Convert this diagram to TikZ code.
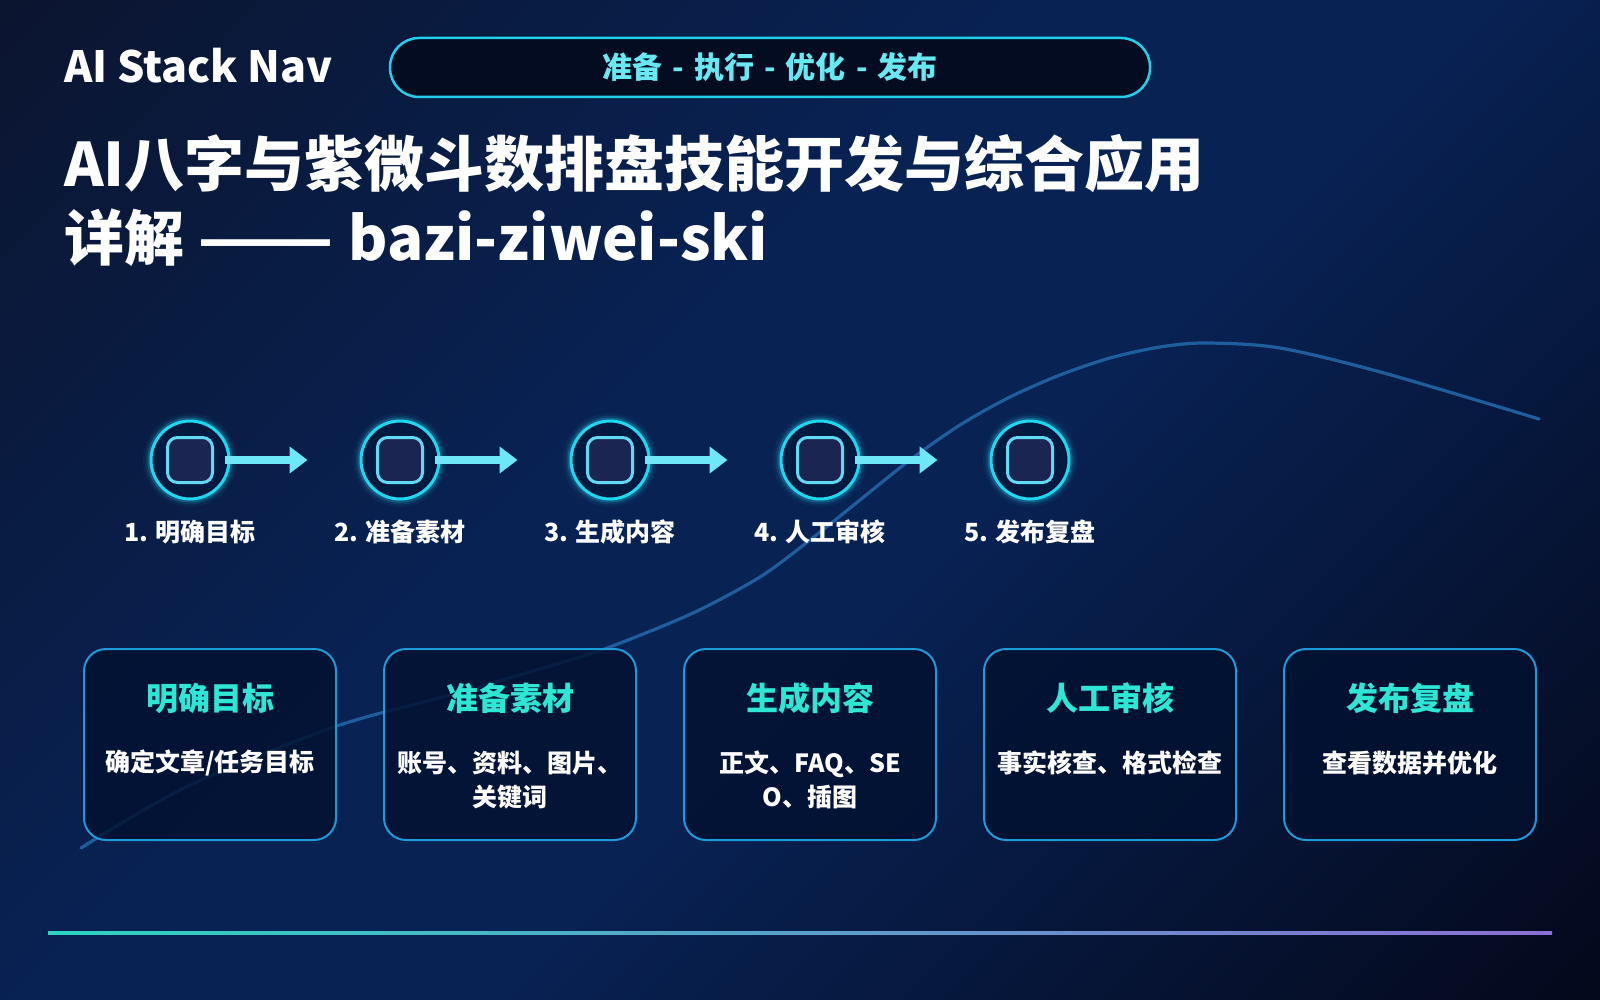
\documentclass[tikz,border=0pt]{standalone}
\usepackage{fontspec}
\usepackage{graphicx}
\setmainfont{Noto Sans CJK SC}
\usetikzlibrary{arrows.meta}
\definecolor{bgA}{HTML}{0B1530}
\definecolor{bgB}{HTML}{082254}
\definecolor{bgC}{HTML}{04081A}
\definecolor{pillB}{HTML}{22CFEA}
\definecolor{pillF}{HTML}{040C22}
\definecolor{pillT}{HTML}{6AE8F2}
\definecolor{curveC}{HTML}{1F5E9C}
\definecolor{ringC}{HTML}{1FD8EF}
\definecolor{ringF}{HTML}{031A40}
\definecolor{sqB}{HTML}{62D9F2}
\definecolor{sqF}{HTML}{1A2552}
\definecolor{arrC}{HTML}{6EE7F9}
\definecolor{cardB}{HTML}{1E9BD7}
\definecolor{cardF}{HTML}{021130}
\definecolor{cardT}{HTML}{2EE6D6}
\definecolor{lineA}{HTML}{2DD4BF}
\definecolor{lineB}{HTML}{8B6FD6}
\pgfdeclarehorizontalshading{bgshade}{100bp}{color(0bp)=(bgA); color(15bp)=(bgA); color(43bp)=(bgB); color(55bp)=(bgB); color(86bp)=(bgC); color(100bp)=(bgC)}
\newcommand\tagsep{\hspace{0.34em}-\hspace{0.34em}}
\begin{document}
\begin{tikzpicture}[x=1pt,y=-1pt,
  brand/.style={anchor=west, inner sep=0pt, text=white, font=\fontsize{43}{50}\selectfont\bfseries},
  pill/.style={draw=pillB, line width=2.5pt, fill=pillF, rounded corners=29pt, minimum width=760pt, minimum height=59pt, text=pillT, font=\fontsize{30}{36}\selectfont\bfseries},
  titletxt/.style={anchor=west, inner sep=0pt, text=white, font=\fontsize{60}{70}\selectfont\bfseries},
  stepring/.style={circle, draw=ringC, line width=3pt, fill=ringF, minimum size=78pt, inner sep=0pt,
     preaction={draw=ringC, line width=16pt, draw opacity=0.05},
     preaction={draw=ringC, line width=11pt, draw opacity=0.10},
     preaction={draw=ringC, line width=7pt, draw opacity=0.22}},
  stepsq/.style={draw=sqB, line width=3pt, fill=sqF, rounded corners=10pt, minimum size=45pt, inner sep=0pt},
  steparrow/.style={draw=arrC, line width=7.5pt, -{Triangle[length=18pt,width=26pt]}, shorten <=-6pt, shorten >=52pt},
  steplbl/.style={inner sep=0pt, text=white, font=\fontsize{25}{30}\selectfont\bfseries},
  card/.style={draw=cardB, line width=2pt, fill=cardF, fill opacity=0.82, rounded corners=22pt, minimum width=252pt, minimum height=191pt, inner sep=0pt},
  cardtitle/.style={inner sep=0pt, text=cardT, font=\fontsize{32}{38}\selectfont\bfseries},
  cardbody/.style={inner sep=0pt, text=white, align=center, font=\fontsize{25}{34}\selectfont\bfseries},
  curveline/.style={draw=curveC, line width=3.2pt, line cap=round}
]
\useasboundingbox (0,0) rectangle (1600,1000);
\shade[shading=bgshade, shading angle=-45] (0,0) rectangle (1600,1000);

% decorative curve
\draw[curveline] plot[smooth, tension=0.5] coordinates {(81,848) (186,787) (334,727) (450,695) (560,663) (610,647) (693,613) (760,577) (810,540) (860,500) (910,460) (960,425) (1010,397) (1060,375) (1110,358) (1160,347) (1206,343) (1280,348) (1384,373) (1539,419)};

% header
\node[brand] (brand) at (64,66) {AI Stack Nav};
\node[pill] (tagline) at (770,67.5) {准备\tagsep 执行\tagsep 优化\tagsep 发布};
\node[titletxt] (title1) at (64,164) {AI八字与紫微斗数排盘技能开发与综合应用};
\node[titletxt] (title2) at (64,238) {详解 \scalebox{1.33}[1]{——} bazi-ziwei-ski};

% steps
\foreach \i/\x/\t in {1/190/1. 明确目标, 2/400/2. 准备素材, 3/610/3. 生成内容, 4/820/4. 人工审核, 5/1030/5. 发布复盘}{
  \node[stepring] (c\i) at (\x,460) {};
  \node[stepsq] (s\i) at (c\i) {};
  \node[steplbl] (l\i) at (\x,532) {\t};
}
\foreach \i/\j in {1/2,2/3,3/4,4/5}{
  \draw[steparrow] (c\i.east) -- (c\j.west);
}

% cards
\foreach \i/\x in {1/210,2/510,3/810,4/1110,5/1410}{
  \node[card] (card\i) at (\x,744.5) {};
}
\node[cardtitle] (ct1) at ([yshift=-50pt]card1.north) {明确目标};
\node[cardtitle] (ct2) at ([yshift=-50pt]card2.north) {准备素材};
\node[cardtitle] (ct3) at ([yshift=-50pt]card3.north) {生成内容};
\node[cardtitle] (ct4) at ([yshift=-50pt]card4.north) {人工审核};
\node[cardtitle] (ct5) at ([yshift=-50pt]card5.north) {发布复盘};
\node[cardbody] (cb1) at ([yshift=-115pt]card1.north) {确定文章/任务目标};
\node[cardbody] (cb2) at ([yshift=-132pt]card2.north) {账号、资料、图片、\\关键词};
\node[cardbody] (cb3) at ([yshift=-132pt]card3.north) {正文、FAQ、SE\\O、插图};
\node[cardbody] (cb4) at ([yshift=-115pt]card4.north) {事实核查、格式检查};
\node[cardbody] (cb5) at ([yshift=-115pt]card5.north) {查看数据并优化};

% bottom rule
\shade[left color=lineA, right color=lineB] (48,931.5) rectangle (1552,934.5);
\end{tikzpicture}
\end{document}
